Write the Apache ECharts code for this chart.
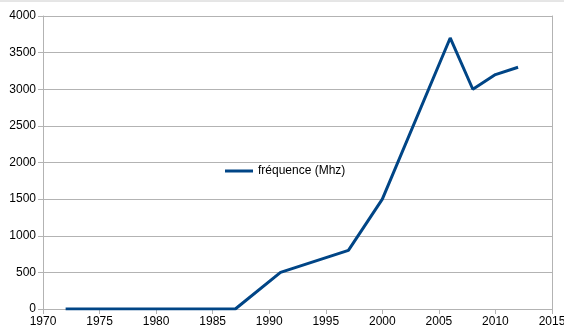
<!DOCTYPE html>
<html>
<head>
<meta charset="utf-8">
<script src="https://cdn.jsdelivr.net/npm/echarts@6/dist/echarts.min.js"></script>
<style>html,body{margin:0;padding:0;background:#fff}#c{width:564px;height:336px}</style>
</head>
<body>
<div id="c"></div>
<script>
const years = [1972, 1987, 1991, 1997, 2000, 2006, 2008, 2010, 2012];
const freq = [0, 0, 500, 800, 1500, 3700, 3000, 3200, 3300];
const seriesName = 'fréquence (Mhz)';

const chart = echarts.init(document.getElementById('c'), null, {renderer: 'canvas'});
const gray = '#b3b3b3';
const font = 'Liberation Sans, Arial, sans-serif';
chart.setOption({
  animation: false,
  backgroundColor: '#fff',
  grid: {left: 43, right: 12, top: 16, bottom: 27, containLabel: false, outerBoundsMode: 'none'},
  legend: {
    left: 220, top: 160, icon: 'rect', itemWidth: 28, itemHeight: 3,
    textStyle: {fontFamily: font, fontSize: 12, color: '#000'},
    data: [seriesName]
  },
  graphic: [{type: 'line', shape: {x1: 0, y1: 1, x2: 564, y2: 1}, style: {stroke: '#cccccc', lineWidth: 1}}],
  xAxis: {
    type: 'value', min: 1970, max: 2015, interval: 5,
    axisLine: {show: true, lineStyle: {color: gray}},
    axisTick: {show: true, length: 5, lineStyle: {color: gray}},
    splitLine: {show: false},
    axisLabel: {fontFamily: font, fontSize: 12, color: '#000', margin: 7, formatter: v => String(v)}
  },
  yAxis: [{
    type: 'value', min: 0, max: 4000, interval: 500,
    axisLine: {show: true, lineStyle: {color: gray}},
    axisTick: {show: true, length: 5, lineStyle: {color: gray}},
    splitLine: {show: true, lineStyle: {color: gray}},
    axisLabel: {fontFamily: font, fontSize: 12, color: '#000', margin: 7, formatter: v => String(v)}
  }, {
    type: 'value', min: 0, max: 4000, interval: 500, position: 'right',
    axisLine: {show: true, lineStyle: {color: gray}},
    axisTick: {show: false}, axisLabel: {show: false}, splitLine: {show: false}
  }],
  series: [{
    name: seriesName, type: 'line', showSymbol: false, symbol: 'none',
    data: years.map((y, i) => [y, freq[i]]),
    lineStyle: {color: '#004586', width: 3},
    itemStyle: {color: '#004586'}
  }]
});
</script>
</body>
</html>
